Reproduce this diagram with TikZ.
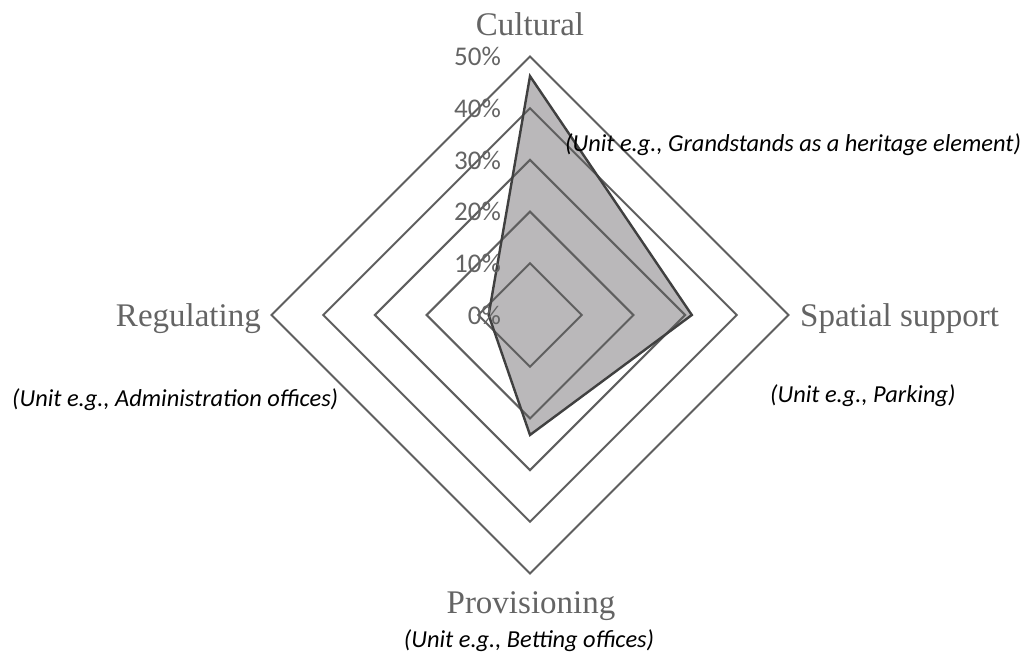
\documentclass[tikz,border=0pt]{standalone}
\usepackage{fontspec}
\setmainfont{Liberation Serif}
\newfontfamily\calibfont{Carlito}
\begin{document}
\begin{tikzpicture}[x=1pt,y=-1pt,
  ring/.style={draw=ringgray,line width=2pt,line join=miter},
  series/.style={draw=seriesgray,line width=2.4pt,line join=miter},
  axislabel/.style={text=labelgray,font=\fontsize{33}{36}\selectfont,inner sep=0pt},
  pctlabel/.style={text=labelgray,font=\calibfont\fontsize{27}{30}\selectfont,inner sep=0pt,anchor=east},
  unitlabel/.style={text=black,font=\calibfont\itshape\fontsize{24.4}{28}\selectfont,inner sep=0pt}]
\definecolor{ringgray}{RGB}{95,95,95}
\definecolor{seriesgray}{RGB}{64,64,64}
\definecolor{fillgray}{RGB}{186,184,186}
\definecolor{labelgray}{RGB}{100,100,100}
\useasboundingbox (0,0) rectangle (1025,659);
\def\cx{530}\def\cy{315}\def\st{51.7}
% data series: Cultural 46%, Spatial support 31%, Provisioning 23%, Regulating 8%
\coordinate (dT) at (\cx,\cy-4.62*\st);
\coordinate (dR) at (\cx+3.13*\st,\cy);
\coordinate (dB) at (\cx,\cy+2.32*\st);
\coordinate (dL) at (\cx-0.80*\st,\cy);
\fill[fillgray] (dT) -- (dR) -- (dB) -- (dL) -- cycle;
% concentric grid rings, 10% apart
\foreach \k in {1,...,5}{
  \draw[ring] (\cx,\cy-\k*\st) -- (\cx+\k*\st,\cy) -- (\cx,\cy+\k*\st) -- (\cx-\k*\st,\cy) -- cycle;
}
\draw[series] (dT) -- (dR) -- (dB) -- (dL) -- cycle;
% scale labels
\foreach \k/\t in {0/0\%,1/10\%,2/20\%,3/30\%,4/40\%,5/50\%}{
  \node[pctlabel] (p\k) at (501,\cy-\k*\st) {\t};
}
% axis names
\node[axislabel,anchor=base] (cult) at (530,35) {Cultural};
\node[axislabel,anchor=base west] (spat) at (800,326) {Spatial support};
\node[axislabel,anchor=base] (prov) at (531,613) {Provisioning};
\node[axislabel,anchor=base east] (regu) at (261,326) {Regulating};
% example units
\node[unitlabel,anchor=base west] (ucult) at (565,151) {(Unit e.g., Grandstands as a heritage element)};
\node[unitlabel,anchor=base west] (uspat) at (770,402) {(Unit e.g., Parking)};
\node[unitlabel,anchor=base] (uprov) at (529,647) {(Unit e.g., Betting offices)};
\node[unitlabel,anchor=base west] (uregu) at (12,406) {(Unit e.g., Administration offices)};
\end{tikzpicture}
\end{document}
